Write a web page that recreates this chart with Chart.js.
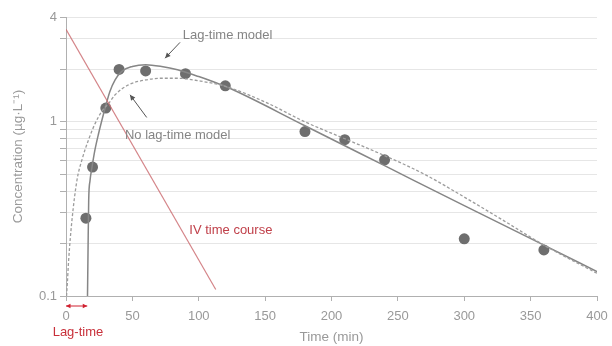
<!DOCTYPE html>
<html>
<head>
<meta charset="utf-8">
<script src="https://cdn.jsdelivr.net/npm/chart.js@4/dist/chart.umd.min.js"></script>
<style>
  html, body { margin: 0; padding: 0; background: #fff; }
  #wrap { width: 612px; height: 346px; position: relative; }
</style>
</head>
<body>
<div id="wrap"><canvas id="pkChart"></canvas></div>
<script>
// Observed concentrations (ug/L) vs time (min)
const obsTime = [15, 20, 30, 40, 60, 90, 120, 180, 210, 240, 300, 360];
const obsConc = [0.28, 0.55, 1.2, 2.0, 1.96, 1.89, 1.61, 0.88, 0.79, 0.605, 0.213, 0.184];

// Lag-time model fit
const lagTime = [16.2, 16.6, 17.1, 18.1, 19.6, 21.8, 24.6, 28.4, 30.1, 33, 37, 42, 50, 60, 72, 84, 100, 110, 120, 180, 240, 300, 360, 400];
const lagConc = [0.1, 0.184, 0.356, 0.46, 0.55, 0.69, 0.86, 1.12, 1.25, 1.49, 1.74, 1.95, 2.08, 2.13, 2.08, 1.99, 1.82, 1.71, 1.6, 0.95, 0.56, 0.33, 0.196, 0.138];

// No lag-time model fit
const noLagTime = [0.4, 1, 2, 4.5, 8.3, 12, 17, 22, 27, 32, 37, 47, 60, 72, 84, 100, 120, 150, 180, 210, 240, 270, 300, 330, 360, 400];
const noLagConc = [0.1, 0.118, 0.161, 0.273, 0.464, 0.605, 0.79, 0.98, 1.15, 1.27, 1.43, 1.63, 1.74, 1.78, 1.78, 1.72, 1.6, 1.3, 1.0, 0.8, 0.64, 0.5, 0.37, 0.27, 0.196, 0.135];

// IV time course (straight line on log scale)
const ivTime = [0, 112.8];
const ivConc = [3.4, 0.109];

// Axis ticks
const yGrid = [0.1, 0.2, 0.3, 0.4, 0.5, 0.6, 0.7, 0.8, 0.9, 1, 2, 3, 4];
const yLabels = [0.1, 1, 4];
const xTicks = [0, 50, 100, 150, 200, 250, 300, 350, 400];

// Annotations (data coordinates)
const notes = [
    { text: 'Lag-time model', t: 88, c: 3.12, color: '#858585' },
    { text: 'No lag-time model', t: 44.4, c: 0.84, color: '#858585' },
    { text: 'IV time course', t: 92.9, c: 0.238, color: '#c0404a' }
];
const arrows = [
    { from: [85.9, 2.86], to: [74.6, 2.32] },
    { from: [60.8, 1.06], to: [48.2, 1.43] }
];
const lagSpan = [0, 16];

const toXY = (xs, ys) => xs.map((x, i) => ({ x: x, y: ys[i] }));

function arrowHead(ctx, x1, y1, x2, y2, size) {
    const a = Math.atan2(y2 - y1, x2 - x1);
    ctx.beginPath();
    ctx.moveTo(x2, y2);
    ctx.lineTo(x2 - size * Math.cos(a - 0.45), y2 - size * Math.sin(a - 0.45));
    ctx.lineTo(x2 - size * Math.cos(a + 0.45), y2 - size * Math.sin(a + 0.45));
    ctx.closePath();
    ctx.fill();
}

const notesPlugin = {
    id: 'notes',
    afterDatasetsDraw(chart) {
        const { ctx, scales: { x, y }, chartArea } = chart;
        ctx.save();
        ctx.font = "13px 'Liberation Sans', Arial, sans-serif";
        ctx.textBaseline = 'middle';
        ctx.textAlign = 'left';
        notes.forEach(n => {
            ctx.fillStyle = n.color;
            ctx.fillText(n.text, x.getPixelForValue(n.t), y.getPixelForValue(n.c));
        });

        ctx.strokeStyle = '#555';
        ctx.fillStyle = '#555';
        ctx.lineWidth = 1;
        arrows.forEach(a => {
            const x1 = x.getPixelForValue(a.from[0]), y1 = y.getPixelForValue(a.from[1]);
            const x2 = x.getPixelForValue(a.to[0]), y2 = y.getPixelForValue(a.to[1]);
            ctx.beginPath();
            ctx.moveTo(x1, y1);
            ctx.lineTo(x2, y2);
            ctx.stroke();
            arrowHead(ctx, x1, y1, x2, y2, 6);
        });

        // lag-time double arrow under the axis
        const ax1 = x.getPixelForValue(lagSpan[0]), ax2 = x.getPixelForValue(lagSpan[1]);
        const ay = chartArea.bottom + 10;
        ctx.strokeStyle = '#d02030';
        ctx.fillStyle = '#d02030';
        ctx.beginPath();
        ctx.moveTo(ax1, ay);
        ctx.lineTo(ax2, ay);
        ctx.stroke();
        arrowHead(ctx, ax2, ay, ax1, ay, 5);
        arrowHead(ctx, ax1, ay, ax2, ay, 5);

        ctx.fillStyle = '#c8303a';
        ctx.textAlign = 'center';
        ctx.fillText('Lag-time', x.getPixelForValue(9), chartArea.bottom + 36);
        ctx.restore();
    }
};

const ctx = document.getElementById('pkChart').getContext('2d');
const pkChart = new Chart(ctx, {
    type: 'scatter',
    data: {
        datasets: [
            {
                label: 'IV',
                type: 'line',
                data: toXY(ivTime, ivConc),
                borderColor: 'rgba(205, 110, 115, 0.85)',
                borderWidth: 1.2,
                pointRadius: 0,
                tension: 0
            },
            {
                label: 'No lag-time model',
                type: 'line',
                data: toXY(noLagTime, noLagConc),
                borderColor: '#9c9c9c',
                borderWidth: 1.3,
                borderDash: [3, 2],
                pointRadius: 0,
                cubicInterpolationMode: 'monotone'
            },
            {
                label: 'Lag-time model',
                type: 'line',
                data: toXY(lagTime, lagConc),
                borderColor: '#868686',
                borderWidth: 1.5,
                pointRadius: 0,
                cubicInterpolationMode: 'monotone'
            },
            {
                label: 'Observed',
                data: toXY(obsTime, obsConc),
                backgroundColor: '#6e6e6e',
                borderWidth: 0,
                pointRadius: 5.5
            }
        ]
    },
    options: {
        responsive: true,
        maintainAspectRatio: false,
        animation: false,
        layout: { padding: { left: 0, top: 17, right: 15, bottom: 0 } },
        plugins: {
            legend: { display: false },
            tooltip: { enabled: false }
        },
        scales: {
            x: {
                type: 'linear',
                min: 0,
                max: 400,
                afterBuildTicks: s => { s.ticks = xTicks.map(v => ({ value: v })); },
                afterFit: s => { s.height = 50; s.paddingLeft = 0; s.paddingRight = 0; },
                grid: { drawOnChartArea: false, drawTicks: true, tickLength: 5, tickColor: '#b0b0b0' },
                border: { color: '#b0b0b0' },
                ticks: {
                    color: '#999',
                    padding: 8,
                    font: { size: 13, family: "'Liberation Sans', Arial, sans-serif" }
                },
                title: {
                    display: true,
                    text: 'Time (min)',
                    color: '#999',
                    padding: { top: 0, bottom: 1 },
                    font: { size: 13.5, family: "'Liberation Sans', Arial, sans-serif" }
                }
            },
            y: {
                type: 'logarithmic',
                min: 0.1,
                max: 4,
                afterBuildTicks: s => { s.ticks = yGrid.map(v => ({ value: v })); },
                afterFit: s => { s.width = 66; s.paddingTop = 0; s.paddingBottom = 0; },
                grid: { color: '#e6e6e6', tickLength: 6, tickColor: '#b0b0b0' },
                border: { color: '#b0b0b0' },
                ticks: {
                    autoSkip: false,
                    color: '#999',
                    padding: 3,
                    font: { size: 13, family: "'Liberation Sans', Arial, sans-serif" },
                    callback: v => (yLabels.includes(v) ? String(v) : '')
                },
                title: {
                    display: true,
                    text: 'Concentration (µg·L⁻¹)',
                    color: '#999',
                    padding: { top: 10, bottom: 0 },
                    font: { size: 13.5, family: "'Liberation Sans', Arial, sans-serif" }
                }
            }
        }
    },
    plugins: [notesPlugin]
});
</script>
</body>
</html>
